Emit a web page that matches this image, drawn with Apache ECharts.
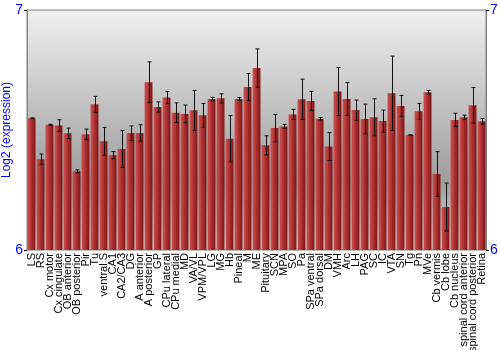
<!DOCTYPE html>
<html><head><meta charset="utf-8">
<script src="https://cdn.jsdelivr.net/npm/echarts@6/dist/echarts.min.js"></script>
<style>html,body{margin:0;padding:0;background:#fff}#c{width:500px;height:350px}</style>
</head><body><div id="c"></div>
<script>
const categories = ["LS","RS","Cx motor","Cx cingulate","OB anterior","OB posterior","Pir","Tu","ventral S","CA1","CA2/CA3","DG","A anterior","A posterior","GP","CPu lateral","CPu medial","MD","VA/VL","VPM/VPL","LG","MG","Hb","Pineal","M","ME","Pituitary","SCN","MPA","SO","Pa","SPa ventral","SPa dorsal","DM","VMH","Arc","LH","PAG","SC","IC","VTA","SN","Tg","Pn","MVe","Cb vermis","Cb lobe","Cb nucleus","spinal cord anterior","spinal cord posterior","Retina"];
const values = [6.549,6.378,6.522,6.519,6.486,6.328,6.482,6.607,6.453,6.395,6.421,6.487,6.487,6.699,6.596,6.635,6.572,6.567,6.582,6.561,6.629,6.632,6.464,6.629,6.679,6.758,6.436,6.508,6.515,6.565,6.628,6.621,6.547,6.431,6.660,6.629,6.583,6.546,6.553,6.537,6.653,6.600,6.479,6.578,6.657,6.317,6.179,6.542,6.553,6.603,6.536];
const errors = [0.002,0.022,0.002,0.024,0.022,0.006,0.022,0.033,0.058,0.015,0.077,0.030,0.035,0.085,0.021,0.025,0.041,0.037,0.083,0.050,0.007,0.019,0.096,0.006,0.056,0.080,0.040,0.057,0.008,0.021,0.084,0.040,0.005,0.058,0.100,0.068,0.042,0.062,0.077,0.046,0.155,0.044,0.001,0.033,0.008,0.093,0.100,0.028,0.009,0.074,0.012];
const yTicks = [6, 7];

const chart = echarts.init(document.getElementById('c'), null, {renderer:'canvas'});
const font = '"Liberation Sans", Arial, sans-serif';
const yAxisBase = {
  type:'value', min:yTicks[0], max:yTicks[1], interval:1,
  axisLine:{show:true, lineStyle:{color:'#808080', width:1}},
  axisTick:{show:true, length:3, lineStyle:{color:'#000'}},
  splitLine:{show:false},
  axisLabel:{color:'#0000ff', fontSize:14, fontFamily:font, margin:4}
};
chart.setOption({
  animation:false,
  grid:{left:27, right:14, top:10, bottom:100, containLabel:false, outerBoundsMode:'none',
    show:true, borderColor:'#808080', borderWidth:1,
    backgroundColor:new echarts.graphic.LinearGradient(0,0,0,1,[
      {offset:0,color:'#f0f0f0'},{offset:0.72,color:'#9c9c9c'},{offset:1,color:'#e0e0e0'}])},
  xAxis:{type:'category', data:categories,
    axisLine:{show:false}, axisTick:{show:false},
    axisLabel:{rotate:90, interval:0, fontSize:11, color:'#000', fontFamily:font, margin:3}},
  yAxis:[
    Object.assign({}, yAxisBase, {position:'left', name:'Log2 (expression)', nameLocation:'middle', nameGap:14,
      nameMoveOverlap:false,
      nameTextStyle:{color:'#0000ff', fontSize:12, fontFamily:font}}),
    Object.assign({}, yAxisBase, {position:'right'})
  ],
  series:[
    {type:'bar', data:values, barCategoryGap:'12%',
     itemStyle:{color:new echarts.graphic.LinearGradient(0,0,1,0,[
       {offset:0,color:'#cc5555'},{offset:0.35,color:'#b83a3a'},{offset:1,color:'#7e1414'}])}},
    {type:'custom', z:10,
     data:values.map((v,i)=>[i, v-errors[i], v+errors[i]]),
     renderItem:function(params, api){
       const lo = api.coord([api.value(0), api.value(1)]);
       const hi = api.coord([api.value(0), api.value(2)]);
       const x = Math.round(lo[0]) + 0.5;
       const hw = 2;
       const st = {stroke:'#111', lineWidth:1};
       return {type:'group', children:[
         {type:'line', shape:{x1:x, y1:hi[1], x2:x, y2:lo[1]}, style:st},
         {type:'line', shape:{x1:x-hw, y1:hi[1], x2:x+hw, y2:hi[1]}, style:st},
         {type:'line', shape:{x1:x-hw, y1:lo[1], x2:x+hw, y2:lo[1]}, style:st}
       ]};
     }}
  ]
});
</script></body></html>
